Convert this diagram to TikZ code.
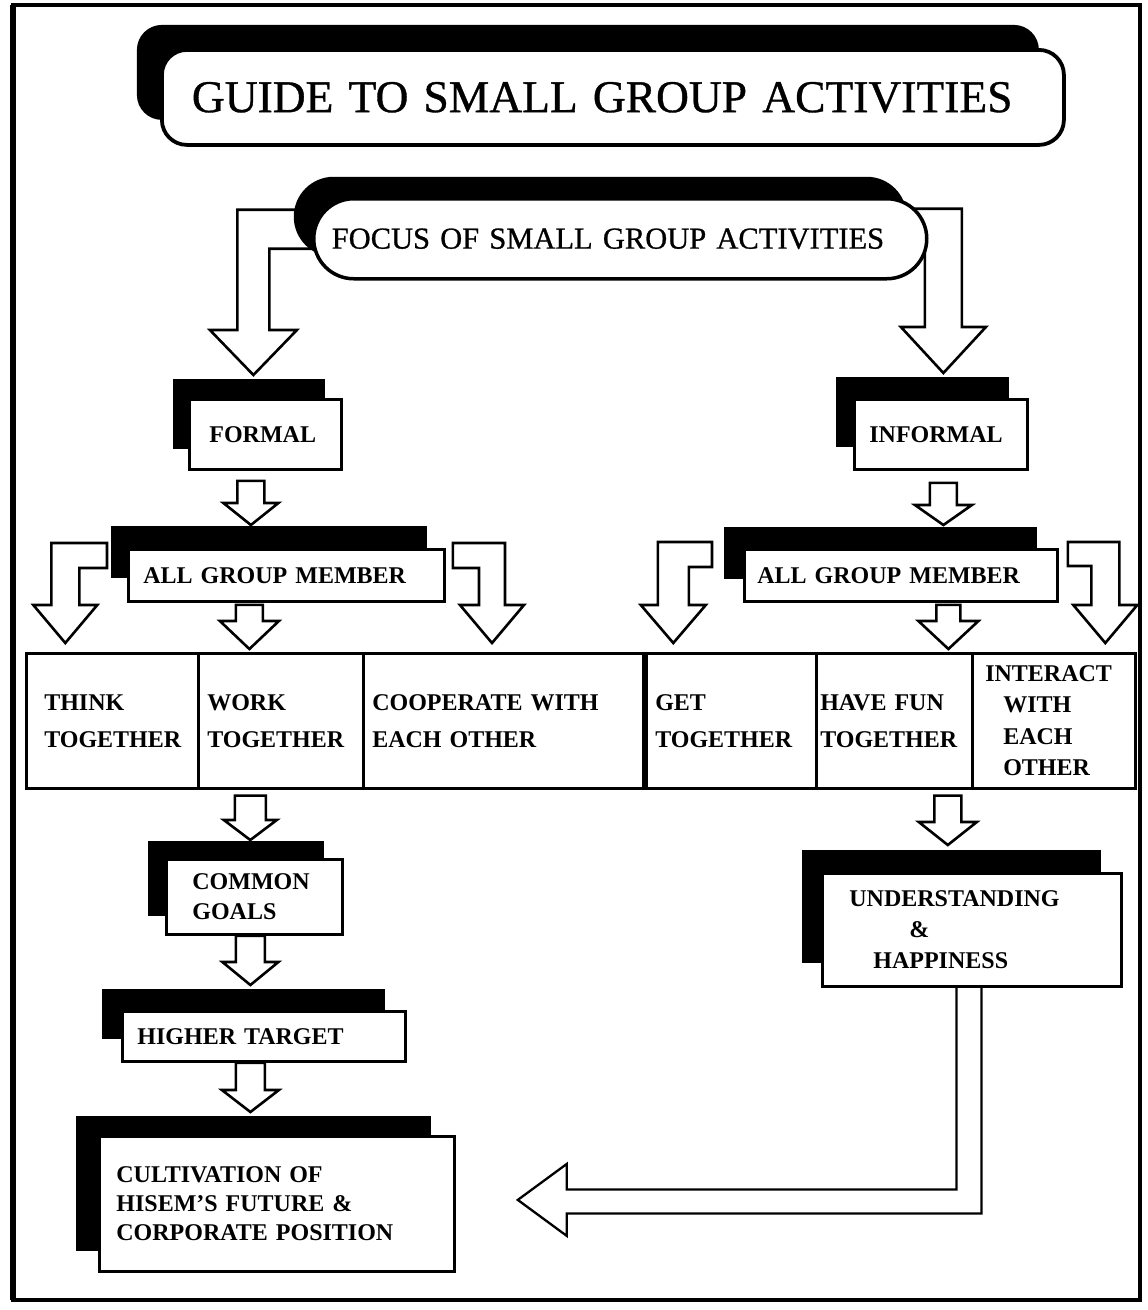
\documentclass[tikz,border=0pt]{standalone}
\usepackage{fontspec}
\setmainfont{Liberation Serif}
\newfontfamily\headfont{Liberation Serif}[FakeBold=0.8]
\usetikzlibrary{calc,shadows}
\pgfdeclarelayer{bg}
\pgfsetlayers{bg,main}

% left indent of one line of text inside a box
\newcommand\pad[1]{\hspace*{#1}}

\tikzset{
  panel/.style args={#1/#2}{draw, fill=white, line width=2.8pt, anchor=north west,
    inner xsep=0pt, inner ysep=0pt, text width=#1, minimum height=#2, align=left,
    font=\bfseries\fontsize{24}{30}\selectfont},
  backshadow/.style args={#1/#2}{general shadow={fill=black, shadow xshift=#1, shadow yshift=#2}},
  cell/.style={draw, line width=2.6pt, anchor=north west, inner xsep=0pt, inner ysep=0pt,
    text width=#1, minimum height=135pt, align=left,
    font=\bfseries\fontsize{24}{37}\selectfont},
  blockarrow/.style={draw, fill=white, line width=2.6pt, line join=miter},
  hollowarrow/.style={draw, fill=white, line width=2.3pt, line join=miter},
}

% straight hollow arrow pointing down: start, tip, shaft half width, head half width, head length
\newcommand\blockdown[5]{%
  \draw[blockarrow] let \p1=#1, \p2=#2 in
    ({\x1-#3},\y1) -- ({\x1-#3},{\y2+#5}) -- ({\x1-#4},{\y2+#5}) -- (\x1,\y2)
    -- ({\x1+#4},{\y2+#5}) -- ({\x1+#3},{\y2+#5}) -- ({\x1+#3},\y1) -- cycle;}

% elbow hollow arrow: side of the outer edge (+1/-1), start, tip, band thickness,
% shaft half width, head half width, head length
\newcommand\blockbent[7]{%
  \draw[blockarrow] let \p1=#2, \p2=#3 in
    (\x1,\y1) -- ({\x2+(#1)*(#5)},\y1) -- ({\x2+(#1)*(#5)},{\y2+#7})
    -- ({\x2+(#1)*(#6)},{\y2+#7}) -- (\x2,\y2) -- ({\x2-(#1)*(#6)},{\y2+#7})
    -- ({\x2-(#1)*(#5)},{\y2+#7}) -- ({\x2-(#1)*(#5)},{\y1-#4}) -- (\x1,{\y1-#4}) -- cycle;}

\begin{document}
\begin{tikzpicture}[x=1pt,y=-1pt]
\useasboundingbox (0,0) rectangle (1148,1310);

% outer frame
\draw[line width=3.5pt] (13,5) rectangle (1140,1300);
\draw[line width=6pt] (13,5) -- (13,1300);

% headings
\node[panel=902pt/95pt, rounded corners=25pt, line width=3.8pt, backshadow=-25pt/25pt,
      font=\headfont\fontsize{45.5}{50}\selectfont] (title) at (160,48)
      {\pad{30pt}GUIDE TO SMALL GROUP ACTIVITIES};
\node[panel=613pt/80pt, rounded corners=40pt, line width=3.5pt, backshadow=-20pt/22pt,
      font=\headfont\fontsize{30.5}{34}\selectfont] (focus) at (312,197)
      {\pad{18pt}FOCUS OF SMALL GROUP ACTIVITIES};

% two branches
\node[panel=152pt/70pt, backshadow=-16pt/20pt] (formal) at (188,398) {\pad{20pt}FORMAL};
\node[panel=173pt/70pt, backshadow=-18pt/22pt] (informal) at (853,398) {\pad{15pt}INFORMAL};
\node[panel=316pt/52pt, backshadow=-17pt/23pt] (agmL) at (127,548) {\pad{15pt}ALL GROUP MEMBER};
\node[panel=313pt/52pt, backshadow=-20pt/22pt] (agmR) at (743,548) {\pad{13pt}ALL GROUP MEMBER};

% activity row
\node[cell=172pt] (c1) at (25,652) {\pad{18pt}THINK\\\pad{18pt}TOGETHER};
\node[cell=165pt] (c2) at (197,652) {\pad{9pt}WORK\\\pad{9pt}TOGETHER};
\node[cell=280pt] (c3) at (362,652) {\pad{9pt}COOPERATE WITH\\\pad{9pt}EACH OTHER};
\node[cell=173pt] (c4) at (642,652) {\pad{12pt}GET\\\pad{12pt}TOGETHER};
\node[cell=156pt] (c5) at (815,652) {\pad{4pt}HAVE FUN\\\pad{4pt}TOGETHER};
\node[cell=163pt, font=\bfseries\fontsize{24}{31.5}\selectfont] (c6) at (971,652)
      {\pad{13pt}INTERACT\\\pad{31pt}WITH\\\pad{31pt}EACH\\\pad{31pt}OTHER};
\draw[line width=6pt] (c3.north east) -- (c3.south east);

% outcomes
\node[panel=176pt/75pt, backshadow=-18pt/18pt] (common) at (165,858)
      {\pad{26pt}COMMON\\\pad{26pt}GOALS};
\node[panel=283pt/50pt, backshadow=-20pt/22pt] (higher) at (121,1010) {\pad{15pt}HIGHER TARGET};
\node[panel=355pt/135pt, backshadow=-23pt/20pt,
      font=\bfseries\fontsize{24}{29}\selectfont] (cult) at (98,1135)
      {\pad{17pt}CULTIVATION OF\\\pad{17pt}HISEM'S FUTURE \&\\\pad{17pt}CORPORATE POSITION};
\node[panel=299pt/113pt, backshadow=-20pt/23pt,
      font=\bfseries\fontsize{24}{31}\selectfont] (und) at (821,872)
      {\pad{27pt}UNDERSTANDING\\\pad{87pt}\&\\\pad{51pt}HAPPINESS};

% connectors
\begin{pgfonlayer}{bg}
\blockbent{-1}{($(focus.west)+(18,-29)$)}{($(formal.north)+(-12,-23)$)}{39}{16}{43.5}{45}
\blockbent{1}{($(focus.east)+(-45,-30)$)}{($(informal.north)+(2.5,-25)$)}{38}{18.5}{42.5}{46}

\blockdown{($(formal.south)+(-14.5,10)$)}{($(agmL.north)+(0,-23)$)}{13.5}{27.5}{22}
\blockdown{($(informal.south)+(2.5,12)$)}{($(agmR.north)+(0,-23)$)}{13.5}{28.5}{20}

\blockbent{-1}{($(agmL.north west)+(-20,-5)$)}{($(c1.north)+(-47,-9)$)}{25}{14}{32}{38}
\blockbent{1}{($(agmL.north east)+(7,-5)$)}{($(c3.north west)+(130,-9)$)}{25}{13}{32}{38}
\blockdown{($(agmL.south)+(-37,2)$)}{($(c2.north)+(0,-3)$)}{13.5}{29.5}{28}

\blockbent{-1}{($(agmR.north west)+(-31,-6)$)}{($(c4.north)+(-56.5,-9)$)}{25}{15.5}{32.5}{38}
\blockbent{1}{($(agmR.north east)+(9,-6)$)}{($(c6.north)+(51.5,-9)$)}{24}{14}{32}{38}
\blockdown{($(agmR.south)+(47.5,2)$)}{($(c5.north)+(0,-3)$)}{12}{30}{28}

\blockdown{($(c2.south)+(-30.5,6)$)}{($(common.north)+(0,-18)$)}{15.5}{26.5}{20}
\blockdown{($(common.south)+(-4,0)$)}{($(higher.north)+(0,-25)$)}{14.5}{28}{23}
\blockdown{($(higher.south)+(-13.5,0)$)}{($(cult.north)+(0,-23)$)}{14.5}{28.5}{22}
\blockdown{($(c5.south)+(53.5,6)$)}{($(und.north)+(0,-27)$)}{13.5}{29}{23}

\draw[hollowarrow] let \p1=(und.south), \p2=(cult.east) in
  ({\x1-15.5},\y1) -- ({\x1-15.5},{\y2+14.5}) -- ({\x2+111},{\y2+14.5})
  -- ({\x2+111},{\y2+40}) -- ({\x2+62},{\y2+4}) -- ({\x2+111},{\y2-32})
  -- ({\x2+111},{\y2-9.5}) -- ({\x1+9.5},{\y2-9.5}) -- ({\x1+9.5},\y1);
\end{pgfonlayer}
\end{tikzpicture}
\end{document}
